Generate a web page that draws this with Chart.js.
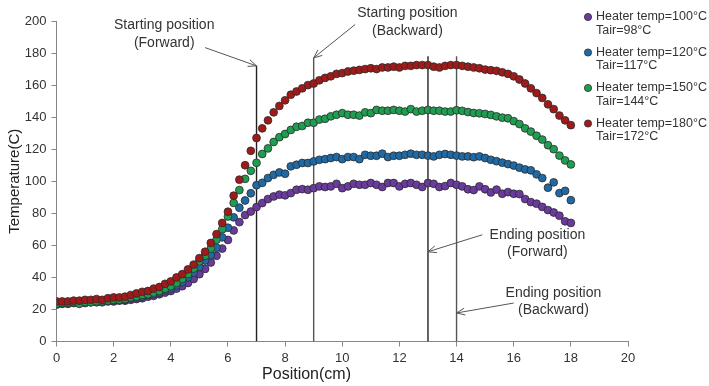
<!DOCTYPE html>
<html>
<head>
<meta charset="utf-8">
<script src="https://cdn.jsdelivr.net/npm/chart.js@4.4.1/dist/chart.umd.min.js"></script>
<style>
  html, body { margin: 0; padding: 0; background: #fff; }
  #wrap { width: 709px; height: 386px; }
</style>
</head>
<body>
<div id="wrap"><canvas id="chart-canvas"></canvas></div>
<script>
// position along the heater, cm
const positions = [
  0, 0.2, 0.4, 0.6, 0.8, 1, 1.2, 1.4, 1.6, 1.8,
  2, 2.2, 2.4, 2.6, 2.8, 3, 3.2, 3.4, 3.6, 3.8,
  4, 4.2, 4.4, 4.6, 4.8, 5, 5.2, 5.4, 5.6, 5.8,
  6, 6.2, 6.4, 6.6, 6.8, 7, 7.2, 7.4, 7.6, 7.8,
  8, 8.2, 8.4, 8.6, 8.8, 9, 9.2, 9.4, 9.6, 9.8,
  10, 10.2, 10.4, 10.6, 10.8, 11, 11.2, 11.4, 11.6, 11.8,
  12, 12.2, 12.4, 12.6, 12.8, 13, 13.2, 13.4, 13.6, 13.8,
  14, 14.2, 14.4, 14.6, 14.8, 15, 15.2, 15.4, 15.6, 15.8,
  16, 16.2, 16.4, 16.6, 16.8, 17, 17.2, 17.4, 17.6, 17.8,
  18
];

const heater100 = [
  23, 23.5, 23.5, 24, 24, 24, 24.5, 24.5, 24.5, 25,
  25, 25.5, 25.5, 26, 26.5, 27, 28, 28.5, 29.5, 30.5,
  31.5, 33, 34.5, 36.5, 39, 42, 45.3, 49.3, 53.5, 58,
  63.4, 69.3, 74.5, 78.9, 81.1, 83.9, 86.4, 88.9, 90.5, 91.6,
  91.2, 92.6, 94.7, 95.1, 94.7, 95.7, 96.8, 96.4, 96.8, 98.4,
  95.7, 96.8, 98.4, 97.8, 97.8, 98.9, 97.8, 96.4, 98.9, 98.9,
  96.8, 98.4, 98.9, 97.8, 96.4, 98.9, 98.4, 96.4, 97, 98.9,
  97.8, 96.8, 95, 94.5, 96.8, 95, 93, 94.8, 92.2, 93.2,
  92.2, 92, 88.9, 87, 86, 84, 82, 80.5, 78.5, 75,
  74
];

const heater120 = [
  24, 24, 24.5, 24.5, 24.5, 25, 25, 25, 25.5, 25.5,
  25.5, 26, 26, 27, 27.5, 28, 29, 29.5, 30.5, 32,
  33, 35, 37, 40, 43, 46.5, 50.5, 54, 58.5, 65,
  71, 77.5, 83.5, 88, 92.5, 97.5, 99, 102, 104, 105.5,
  104.7, 109.3, 110.3, 111.4, 111.4, 112.4, 113.4, 113.8, 114.5, 115.1,
  113.8, 115.1, 115.1, 113.8, 116.5, 115.9, 115.9, 117.2, 115.1, 115.9,
  115.9, 116.5, 117.2, 116.5, 116.5, 116, 115.5, 116.5, 117, 116.5,
  116, 115.5, 115.5, 115, 115.5, 114.5, 113.4, 112.5, 111.6, 110.7,
  109.8, 108.5, 107.4, 106.8, 104.3, 102, 96, 99.3, 92.6, 94,
  88.2
];

const heater150 = [
  23.5, 24, 24, 24.5, 23.5, 24.5, 24.5, 25, 25, 25.5,
  26, 26, 26.5, 27.5, 28, 29, 29.5, 30.5, 31.5, 33,
  34.5, 36.5, 39, 42, 45.5, 50, 53.5, 58, 63.5, 70,
  78, 86.5, 94.5, 101.5, 106.5, 111.5, 117, 120.5, 124.5, 127.5,
  129.5, 132, 134, 134.5, 136.5, 136.5, 138.5, 139, 140.5, 141.5,
  142.5, 141.5, 141.5, 141, 143, 142.5, 144.5, 144, 144, 144.5,
  144, 143.5, 145, 143.5, 144, 144.5, 144, 144, 143.5, 143.5,
  144.3, 143.9, 143.2, 142.6, 142.4, 142, 141.4, 140.5, 139.7, 139.3,
  137.5, 135.7, 133, 131, 128.4, 126, 122.5, 120, 116, 113,
  110.5
];

const heater180 = [
  25, 25, 25, 25.5, 25.5, 26, 26, 26.5, 26, 27,
  27.5, 27.5, 28, 29, 30, 31, 31.5, 33, 34, 36,
  37.5, 40, 42, 45, 48, 52, 56, 61.5, 67, 74,
  81, 91, 101, 110, 119, 127, 133, 138, 143, 147,
  150.5, 154, 156, 158, 160, 161, 163, 164.5, 165.5, 167,
  167.5, 168.5, 169, 169.5, 170, 170.5, 170, 171, 171, 171.5,
  171, 172, 172, 172.5, 172.5, 172.5, 171.5, 171, 172, 172.5,
  172.5, 172, 171.5, 171, 170.5, 169.7, 169.3, 168.9, 168, 167,
  165.5, 163.5, 161, 158, 155, 152, 148, 145, 141, 138,
  135
];

const seriesLabels = [
  ["Heater temp=100°C", "Tair=98°C"],
  ["Heater temp=120°C", "Tair=117°C"],
  ["Heater temp=150°C", "Tair=144°C"],
  ["Heater temp=180°C", "Tair=172°C"]
];
const seriesValues = [heater100, heater120, heater150, heater180];
const seriesColors = ["#6b3a9e", "#1f6aa5", "#1f9e52", "#a11a1a"];

// start / end positions of the forward and backward passes
const markerX = [7, 9, 13, 14];
const markerTop = [172, 177, 178, 178];
const markerColors = ["#222222", "#555555", "#222222", "#555555"];

const notes = [
  { lines: ["Starting position", "(Forward)"], at: [3.77, 197.2], from: [5.2, 183.4], to: 0 },
  { lines: ["Starting position", "(Backward)"], at: [12.28, 204.7], from: [10.45, 197.8], to: 1 },
  { lines: ["Ending position", "(Forward)"], at: [16.83, 66.6], from: [14.9, 66.6], toY: 56, to: 2 },
  { lines: ["Ending position", "(Backward)"], at: [17.39, 30.3], from: [16.0, 24], toY: 17.8, to: 3 }
];

const toPoints = (values) => {
  return values.map((v, i) => ({ x: positions[i], y: v }));
};

let datasets = seriesValues.map((values, i) => {
  return {
    type: "scatter",
    label: seriesLabels[i].join(" "),
    data: toPoints(values),
    backgroundColor: seriesColors[i],
    borderColor: "#2b2b2b",
    borderWidth: 0.8,
    pointRadius: 3.9,
    pointHoverRadius: 3.9,
    order: 10 - i,
  };
});

markerX.forEach((x, i) => {
  datasets.push({
    type: "line",
    label: "marker" + i,
    data: [{ x: x, y: 0 }, { x: x, y: markerTop[i] }],
    borderColor: markerColors[i],
    borderWidth: 1.4,
    pointRadius: 0,
    fill: false,
    order: 20,
  });
});

const drawArrow = (ctx, x1, y1, x2, y2) => {
  ctx.beginPath();
  ctx.moveTo(x1, y1);
  ctx.lineTo(x2, y2);
  ctx.stroke();
  const a = Math.atan2(y2 - y1, x2 - x1);
  const len = 9;
  ctx.beginPath();
  ctx.moveTo(x2 - len * Math.cos(a - 0.4), y2 - len * Math.sin(a - 0.4));
  ctx.lineTo(x2, y2);
  ctx.lineTo(x2 - len * Math.cos(a + 0.4), y2 - len * Math.sin(a + 0.4));
  ctx.stroke();
};

// arrows, notes, axis titles and the two-line legend
const extras = {
  id: "extras",
  afterDraw(chart) {
    const ctx = chart.ctx;
    const xs = chart.scales.x;
    const ys = chart.scales.y;
    const area = chart.chartArea;
    ctx.save();

    ctx.fillStyle = "#333";
    ctx.strokeStyle = "#555";
    ctx.lineWidth = 1;
    ctx.font = "14px 'Liberation Sans', Arial, sans-serif";
    ctx.textAlign = "center";
    ctx.textBaseline = "middle";
    notes.forEach((n) => {
      const cx = xs.getPixelForValue(n.at[0]);
      const cy = ys.getPixelForValue(n.at[1]);
      n.lines.forEach((t, k) => ctx.fillText(t, cx, cy + k * 17.5));
      const tx = xs.getPixelForValue(markerX[n.to]);
      const ty = ys.getPixelForValue(n.toY !== undefined ? n.toY : markerTop[n.to]);
      drawArrow(ctx, xs.getPixelForValue(n.from[0]), ys.getPixelForValue(n.from[1]), tx, ty);
    });

    // axis titles
    ctx.fillStyle = "#222";
    ctx.font = "16px 'Liberation Sans', Arial, sans-serif";
    ctx.fillText("Position(cm)", xs.getPixelForValue(8.75), 375);
    ctx.save();
    ctx.translate(15, (area.top + area.bottom) / 2);
    ctx.rotate(-Math.PI / 2);
    ctx.font = "15px 'Liberation Sans', Arial, sans-serif";
    ctx.fillText("Temperature(C)", 0, 0);
    ctx.restore();

    // legend
    ctx.font = "12.5px 'Liberation Sans', Arial, sans-serif";
    ctx.textAlign = "left";
    seriesLabels.forEach((lines, i) => {
      const y = 17 + i * 35.5;
      const mx = area.right - 40;
      ctx.beginPath();
      ctx.arc(mx, y, 3.6, 0, Math.PI * 2);
      ctx.fillStyle = seriesColors[i];
      ctx.fill();
      ctx.strokeStyle = "#2b2b2b";
      ctx.lineWidth = 0.8;
      ctx.stroke();
      ctx.fillStyle = "#333";
      ctx.fillText(lines[0], mx + 8, y);
      ctx.fillText(lines[1], mx + 8, y + 13.5);
    });
    ctx.restore();
  },
};

let ctx = document.getElementById("chart-canvas");

let tempChart = new Chart(ctx, {
  type: "scatter",
  data: { datasets: datasets },
  options: {
    responsive: true,
    maintainAspectRatio: false,
    animation: false,
    layout: { padding: { left: 0, right: 81, top: 21, bottom: 0 } },
    plugins: {
      legend: { display: false },
      tooltip: { enabled: false },
    },
    scales: {
      x: {
        type: "linear",
        min: 0,
        max: 20,
        ticks: {
          stepSize: 2,
          color: "#333",
          padding: 4,
          font: { size: 13, family: "'Liberation Sans', Arial, sans-serif" },
        },
        grid: { drawOnChartArea: false, drawTicks: true, tickLength: 5, color: "#868686" },
        border: { color: "#868686", width: 1 },
        afterFit: (s) => { s.height = 44.5; },
      },
      y: {
        type: "linear",
        min: 0,
        max: 200,
        ticks: {
          stepSize: 20,
          color: "#333",
          padding: 5,
          font: { size: 13, family: "'Liberation Sans', Arial, sans-serif" },
        },
        grid: { drawOnChartArea: false, drawTicks: true, tickLength: 5, color: "#868686" },
        border: { color: "#868686", width: 1 },
        afterFit: (s) => { s.width = 56.5; },
      },
    },
  },
  plugins: [extras],
});
</script>
</body>
</html>
